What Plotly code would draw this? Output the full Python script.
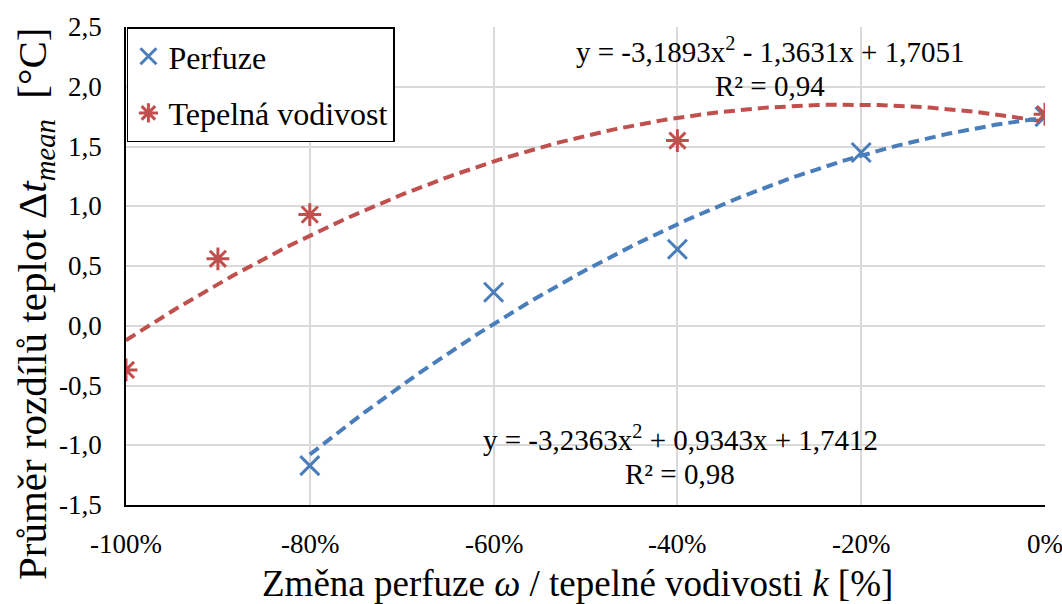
import numpy as np
import plotly.graph_objects as go

# Measured points (x as fraction of change, y in °C)
perf_x = [-0.8, -0.6, -0.4, -0.2, 0.0]
perf_y = [-1.17, 0.28, 0.64, 1.45, 1.75]
cond_x = [-1.0, -0.9, -0.8, -0.4, 0.0]
cond_y = [-0.37, 0.56, 0.93, 1.55, 1.77]

# Quadratic trendline coefficients (a, b, c) for y = a x^2 + b x + c
perf_coef = [-3.2363, 0.9343, 1.7412]
cond_coef = [-3.1893, -1.3631, 1.7051]
perf_r2 = "0,98"
cond_r2 = "0,94"

x_ticks = [-1.0, -0.8, -0.6, -0.4, -0.2, 0.0]
x_ticktext = ["-100%", "-80%", "-60%", "-40%", "-20%", "0%"]
y_ticks = [-1.5, -1.0, -0.5, 0.0, 0.5, 1.0, 1.5, 2.0, 2.5]
y_ticktext = ["-1,5", "-1,0", "-0,5", "0,0", "0,5", "1,0", "1,5", "2,0", "2,5"]

x_title = "Změna perfuze <i>ω</i> / tepelné vodivosti <i>k</i> [%]"
y_title = "Průměr rozdílů teplot Δ<i>t</i><sub><i>mean</i></sub>  [°C]"

BLUE = "#4a7ebb"
RED = "#c0504d"
FONT = "Liberation Serif"
TICK_SIZE = 27
EQ_SIZE = 29


def quad(coef, xs):
    a, b, c = coef
    xs = np.asarray(xs)
    return a * xs ** 2 + b * xs + c


def eq_line(coef):
    a, b, c = coef
    fmt = lambda v: f"{abs(v):.4f}".replace(".", ",")
    sa = ("-" if a < 0 else "") + fmt(a)
    sb = ("- " if b < 0 else "+ ") + fmt(b)
    sc = ("- " if c < 0 else "+ ") + fmt(c)
    return f"y = {sa}x<sup>2</sup> {sb}x {sc}"


fig = go.Figure()

xs_perf = np.linspace(min(perf_x), max(perf_x), 200)
xs_cond = np.linspace(min(cond_x), max(cond_x), 200)

fig.add_trace(go.Scatter(x=xs_cond, y=quad(cond_coef, xs_cond), mode="lines",
                         line=dict(color=RED, width=4, dash="11px,6px"),
                         showlegend=False, hoverinfo="skip"))
fig.add_trace(go.Scatter(x=xs_perf, y=quad(perf_coef, xs_perf), mode="lines",
                         line=dict(color=BLUE, width=4, dash="11px,6px"),
                         showlegend=False, hoverinfo="skip"))

fig.add_trace(go.Scatter(x=perf_x, y=perf_y, mode="markers", name="Perfuze",
                         legendgroup="perf",
                         marker=dict(symbol="x-thin", size=19, color=BLUE,
                                     line=dict(color=BLUE, width=3))))
fig.add_trace(go.Scatter(x=cond_x, y=cond_y, mode="markers", name="Tepelná vodivost",
                         legendgroup="cond",
                         marker=dict(symbol="asterisk", size=19, color=RED,
                                     line=dict(color=RED, width=3))))

# Trendline equations and R² values
eq_font = dict(family=FONT, size=EQ_SIZE, color="#000")
fig.add_annotation(x=-0.299, y=2.31, xref="x", yref="y", text=eq_line(cond_coef),
                   showarrow=False, font=eq_font, xanchor="center", yanchor="middle")
fig.add_annotation(x=-0.299, y=2.005, xref="x", yref="y", text=f"R² = {cond_r2}",
                   showarrow=False, font=eq_font, xanchor="center", yanchor="middle")
fig.add_annotation(x=-0.397, y=-0.94, xref="x", yref="y", text=eq_line(perf_coef),
                   showarrow=False, font=eq_font, xanchor="center", yanchor="middle")
fig.add_annotation(x=-0.397, y=-1.24, xref="x", yref="y", text=f"R² = {perf_r2}",
                   showarrow=False, font=eq_font, xanchor="center", yanchor="middle")

# Tick labels placed on the axis scales
for v, t in zip(x_ticks, x_ticktext):
    fig.add_annotation(x=v, y=0, xref="x", yref="paper", text=t, showarrow=False,
                       xanchor="center", yanchor="middle", yshift=-39,
                       font=dict(family=FONT, size=TICK_SIZE, color="#000"))
for v, t in zip(y_ticks, y_ticktext):
    fig.add_annotation(x=0, y=v, xref="paper", yref="y", text=t, showarrow=False,
                       xanchor="right", yanchor="middle", xshift=-22,
                       font=dict(family=FONT, size=TICK_SIZE, color="#000"))

# Axis titles
fig.add_annotation(x=0.5, y=0, xref="paper", yref="paper", text=x_title, showarrow=False,
                   xanchor="center", yanchor="middle", xshift=-8, yshift=-78,
                   font=dict(family=FONT, size=37, color="#000"))
fig.add_annotation(x=0, y=0.5, xref="paper", yref="paper", text=y_title, showarrow=False,
                   textangle=-90, xanchor="center", yanchor="middle", xshift=-91, yshift=-38,
                   font=dict(family=FONT, size=41, color="#000"))

fig.update_layout(
    width=1062, height=604,
    margin=dict(l=126, r=17, t=27, b=99),
    paper_bgcolor="white", plot_bgcolor="white",
    font=dict(family=FONT, color="#000"),
    legend=dict(x=0.001, y=0.999, xanchor="left", yanchor="top",
                bgcolor="white", bordercolor="#000", borderwidth=1.5,
                font=dict(family=FONT, size=32, color="#000"),
                itemwidth=30, tracegroupgap=12),
    xaxis=dict(range=[-1.0, 0.0], tickvals=x_ticks, showticklabels=False,
               showgrid=True, gridcolor="#d9d9d9", gridwidth=1.5,
               showline=True, linecolor="#000", linewidth=1.5, zeroline=False, ticks=""),
    yaxis=dict(range=[-1.5, 2.5], tickvals=y_ticks, showticklabels=False,
               showgrid=True, gridcolor="#d9d9d9", gridwidth=1.5,
               showline=True, linecolor="#000", linewidth=1.5, zeroline=False, ticks=""),
)

fig.write_html("out.html")
